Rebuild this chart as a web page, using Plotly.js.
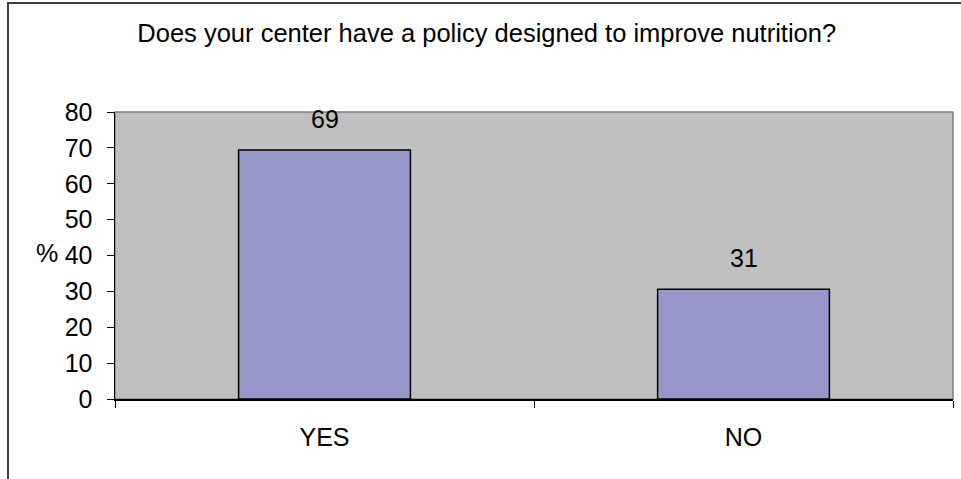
<!DOCTYPE html>
<html>
<head>
<meta charset="utf-8">
<script src="https://cdn.plot.ly/plotly-3.0.1.min.js"></script>
<style>
html,body{margin:0;padding:0;background:#fff;overflow:hidden;width:961px;height:479px;}
#chart{position:absolute;left:0;top:0;width:961px;height:479px;}
#frame{position:absolute;left:7px;top:2px;width:1100px;height:700px;border:2px solid #404040;pointer-events:none;}
</style>
</head>
<body>
<div id="chart"></div>
<div id="frame"></div>
<script>
const categories = ["YES", "NO"];
const values = [69.4, 30.6];
const valueLabels = ["69", "31"];
const yTicks = [0, 10, 20, 30, 40, 50, 60, 70, 80];

const FONT = "Arial, Liberation Sans, sans-serif";

const trace = {
  type: "bar",
  x: categories,
  y: values,
  marker: {color: "#9696C8", line: {color: "#000000", width: 1.5}},
  hoverinfo: "skip"
};

const annotations = categories.map((c, i) => ({
  x: c, y: values[i], xref: "x", yref: "y",
  text: valueLabels[i], showarrow: false,
  yanchor: "middle", yshift: 31,
  font: {family: FONT, size: 25, color: "#000"}
}));
annotations.push({
  xref: "paper", yref: "paper", x: -0.0817, y: 0.51,
  xanchor: "center", yanchor: "middle",
  text: "%", showarrow: false,
  font: {family: FONT, size: 25, color: "#000"}
});

const layout = {
  width: 961, height: 479,
  margin: {l: 115, r: 8, t: 111.5, b: 79.5, pad: 0},
  paper_bgcolor: "rgba(0,0,0,0)",
  plot_bgcolor: "#C0C0C0",
  showlegend: false,
  bargap: 0.59,
  title: {
    text: "Does your center have a policy designed to improve nutrition?",
    font: {family: FONT, size: 25.5, color: "#000"},
    x: 0.5065, xanchor: "center", y: 1 - 33.5/479, yanchor: "middle", yref: "container"
  },
  xaxis: {
    type: "category",
    tickson: "boundaries",
    ticks: "outside", ticklen: 7, tickcolor: "#000", tickwidth: 1,
    showline: true, linecolor: "#000", linewidth: 1.5,
    showgrid: false, zeroline: false,
    ticklabelstandoff: 15,
    tickfont: {family: FONT, size: 25, color: "#000"},
    fixedrange: true
  },
  yaxis: {
    range: [0, 80],
    tickvals: yTicks,
    ticktext: yTicks.map(String),
    ticks: "outside", ticklen: 7, tickcolor: "#000", tickwidth: 1,
    showline: true, linecolor: "#000", linewidth: 1.5,
    showgrid: false, zeroline: false,
    ticklabelstandoff: 9,
    tickfont: {family: FONT, size: 25, color: "#000"},
    fixedrange: true
  },
  shapes: [{
    type: "rect", xref: "paper", yref: "paper", x0: 0, x1: 1, y0: 0, y1: 1,
    line: {color: "#808080", width: 1.5}, layer: "below"
  }],
  annotations: annotations
};

Plotly.newPlot("chart", [trace], layout, {displayModeBar: false, staticPlot: true});
</script>
</body>
</html>
